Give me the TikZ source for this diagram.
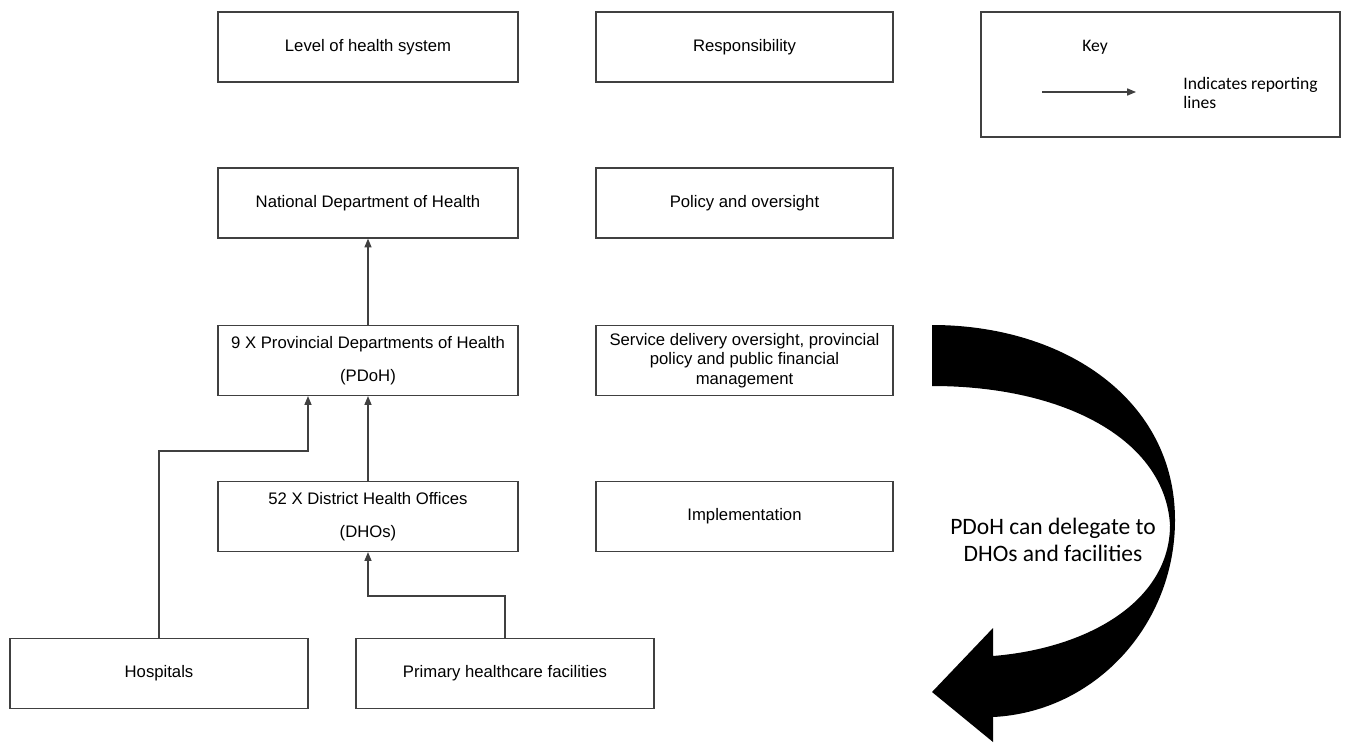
\documentclass[tikz,border=0pt]{standalone}
\usepackage{fontspec}
\setmainfont{Liberation Sans}
\newfontfamily\calib{Carlito}
\usetikzlibrary{arrows.meta}
\definecolor{edge}{HTML}{404040}
\tikzset{
  box/.style={draw=edge, line width=0.7pt, minimum width=6cm, minimum height=1.4cm, inner sep=2pt, align=center, font=\fontsize{9.5}{11}\selectfont},
  rep/.style={draw=edge, line width=0.7pt, -{Triangle[length=5pt,width=4pt]}},
  >=Stealth
}

\begin{document}
\begin{tikzpicture}[x=0.02cm, y=-0.02cm]
  \useasboundingbox (0,0) rectangle (1348,744);
  % Header row
  \node[box] (lvl) at (368,47) {Level of health system};
  \node[box, minimum width=5.94cm] (resp) at (744.5,47) {Responsibility};
  \node[draw=edge, line width=0.7pt, minimum width=7.18cm, minimum height=2.5cm] (keybox) at (1160.5,74.5) {};
  \node[font=\calib\fontsize{10}{12}\selectfont] (keyt) at (1095,47) {Key};
  \coordinate (ks) at (1042,92);
  \coordinate (ke) at (1136,92);
  \draw[rep] (ks) -- (ke);
  \node[anchor=west, align=left, inner sep=0pt, font=\calib\fontsize{10}{10.3}\selectfont] (keyl) at (1183,93) {Indicates reporting\\lines};
  % Levels and responsibilities
  \node[box] (natl) at (368,203) {National Department of Health};
  \node[box, minimum width=5.94cm] (pol) at (744.5,203) {Policy and oversight};
  \node[box] (prov) at (368,360.5) {9 X Provincial Departments of Health\\[8pt](PDoH)};
  \node[box, minimum width=5.94cm] (serv) at (744.5,360.5) {Service delivery oversight, provincial\\policy and public financial\\management};
  \node[box] (dho) at (368,516.5) {52 X District Health Offices\\[8pt](DHOs)};
  \node[box, minimum width=5.94cm] (impl) at (744.5,516.5) {Implementation};
  \node[box, minimum width=5.96cm] (hosp) at (159,673.5) {Hospitals};
  \node[box, minimum width=5.96cm] (prim) at (505,673.5) {Primary healthcare facilities};
  % Reporting lines
  \draw[rep] (prov) -- (natl);
  \draw[rep] (dho) -- (prov);
  \coordinate (hbend) at (308,451);
  \draw[rep] (hosp.north) |- (hbend) -- (hbend |- prov.south);
  \coordinate (pbend) at (368,596);
  \draw[rep] (prim.north) |- (pbend) -- (dho.south);
  % Delegation arrow
  \fill (932,325) .. controls (1065,325) and (1175,400) .. (1175,520)
    .. controls (1175,625) and (1095,712) .. (993,717)
    -- (993,742) -- (932,692) -- (993,628) -- (993,656)
    .. controls (1090,648) and (1170,600) .. (1170,525)
    .. controls (1165,440) and (1065,386) .. (932,386) -- cycle;
  \node[align=center, font=\calib\fontsize{13.4}{15}\selectfont] (deleg) at (1053,540) {PDoH can delegate to\\DHOs and facilities};
\end{tikzpicture}
\end{document}
